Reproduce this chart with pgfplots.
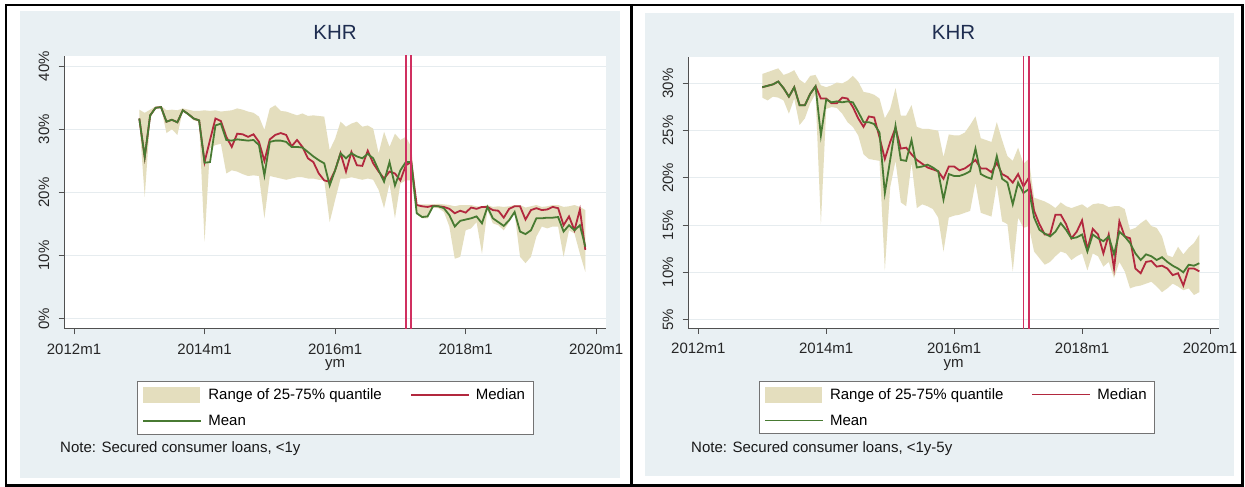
\documentclass[border=0pt]{standalone}
\usepackage{fontspec}
\setmainfont{Liberation Sans}
\usepackage{pgfplots}
\pgfplotsset{compat=1.18}
\usepackage{pgfplotstable}

\definecolor{bgc}{RGB}{233,240,243}
\definecolor{bandc}{RGB}{228,222,190}
\definecolor{medc}{RGB}{178,40,62}
\definecolor{meanc}{RGB}{72,122,50}
\definecolor{vlc}{RGB}{208,48,96}
\definecolor{gridc}{RGB}{230,236,239}
\definecolor{titc}{RGB}{30,45,80}
\definecolor{axc}{RGB}{80,80,80}

\pgfplotstableread{
m lo hi med mean
12 31.4 33.1 31.7 31.7
13 19.3 32.6 25.6 25.6
14 31.7 33.1 32.2 32.2
15 33.3 33.6 33.4 33.4
16 33.4 33.7 33.5 33.5
17 29.4 33.0 31.2 31.2
18 30.0 33.1 31.5 31.5
19 29.1 33.0 31.1 31.1
20 32.9 33.3 33.0 33.0
21 32.2 33.1 32.4 32.4
22 31.4 32.9 31.7 31.7
23 31.2 32.9 31.4 31.4
24 12.2 33.0 24.8 24.7
25 27.0 32.9 28.3 24.8
26 27.5 33.0 31.7 30.6
27 27.7 32.8 31.3 30.9
28 23.0 32.9 28.8 28.3
29 23.5 33.0 27.2 28.2
30 23.3 33.3 29.3 28.4
31 22.9 33.1 29.2 28.3
32 22.6 32.8 28.8 28.2
33 22.7 32.6 29.2 28.3
34 22.6 32.0 28.0 27.5
35 15.9 29.9 25.0 22.7
36 22.6 33.3 28.4 28.0
37 22.4 33.8 29.1 28.2
38 22.2 32.9 29.4 28.2
39 22.0 32.8 29.1 28.0
40 22.2 32.5 27.3 27.2
41 22.4 32.2 28.3 27.2
42 22.4 32.5 27.2 27.1
43 22.2 32.1 25.4 26.4
44 22.2 32.2 24.8 25.7
45 22.0 32.1 23.0 25.1
46 21.9 32.0 21.9 24.6
47 15.3 26.7 21.7 21.1
48 18.8 28.5 23.5 23.5
49 22.2 31.2 26.2 26.2
50 22.2 30.4 23.3 25.4
51 22.4 30.9 26.4 26.2
52 22.2 31.2 24.3 25.7
53 22.0 30.4 24.2 25.4
54 22.2 30.6 26.6 26.1
55 22.0 30.1 24.6 25.4
56 20.4 26.2 23.3 23.5
57 17.5 29.6 22.2 21.7
58 21.4 27.2 23.3 24.8
59 15.9 29.3 23.0 21.1
60 21.4 28.3 21.9 23.5
61 21.9 28.8 24.3 24.8
62 21.9 27.2 24.8 24.8
63 16.6 18.1 18.0 16.7
64 15.9 18.1 17.8 16.1
65 15.9 18.1 17.7 16.2
66 17.6 18.1 17.9 17.8
67 17.5 18.2 17.8 17.8
68 16.9 18.1 17.7 17.5
69 14.6 18.0 17.4 16.4
70 9.5 17.8 16.7 14.6
71 9.8 18.0 17.1 15.5
72 14.0 18.0 16.8 15.7
73 14.3 18.0 17.6 15.9
74 15.3 17.8 17.4 16.2
75 10.3 17.8 17.7 15.1
76 17.2 18.0 17.7 17.7
77 15.1 17.7 17.2 15.9
78 14.8 17.8 17.1 15.3
79 14.0 17.7 16.0 14.7
80 15.3 17.8 17.4 15.6
81 16.7 18.0 17.8 16.9
82 9.8 18.0 17.8 13.8
83 8.8 17.6 15.7 13.4
84 9.8 17.8 17.2 14.0
85 13.0 18.0 17.5 15.9
86 14.6 17.7 17.2 15.9
87 14.3 17.8 17.3 16.0
88 14.6 18.0 17.7 16.0
89 14.6 18.0 17.5 16.1
90 9.8 17.7 14.8 13.8
91 14.0 17.8 16.2 14.8
92 13.5 18.0 14.0 14.0
93 10.3 17.7 17.3 14.8
94 7.4 17.2 10.9 11.4
}\tabA

\pgfplotstableread{
m lo hi med mean
12 28.5 31.0 29.6 29.6
13 28.2 31.2 29.75 29.75
14 28.6 31.4 29.9 29.9
15 28.5 31.6 30.2 30.2
16 28.2 30.9 29.5 29.5
17 26.8 31.1 28.6 28.6
18 28.4 31.4 29.6 29.6
19 25.6 30.4 27.7 27.7
20 26.3 30.0 27.7 27.7
21 27.9 30.8 28.9 28.9
22 28.9 30.9 29.7 29.7
23 15.1 29.8 28.4 24.5
24 27.3 29.6 28.4 28.3
25 27.5 29.8 27.9 28.0
26 27.4 30.1 27.9 28.1
27 26.8 30.0 28.5 28.0
28 25.9 30.3 28.4 28.1
29 25.4 30.8 27.5 28.0
30 24.5 30.2 26.3 27.0
31 22.5 29.1 25.4 25.9
32 22.0 29.0 26.5 25.9
33 21.9 28.8 26.4 25.7
34 21.8 28.4 24.3 24.8
35 10.2 26.3 22.0 18.4
36 19.0 27.3 23.8 21.9
37 21.8 29.5 25.3 25.5
38 17.4 26.6 23.1 21.9
39 17.0 26.6 23.2 21.8
40 21.6 27.7 22.5 24.0
41 16.8 25.4 21.9 21.1
42 17.2 25.2 21.5 21.2
43 17.0 25.2 21.1 21.4
44 16.7 25.1 20.9 21.1
45 15.8 25.0 20.7 20.7
46 12.2 22.2 19.9 17.7
47 15.8 24.6 21.2 20.4
48 16.0 24.5 21.2 20.2
49 16.1 24.5 20.8 20.2
50 16.3 24.8 21.0 20.4
51 16.5 25.6 21.4 20.7
52 19.5 26.5 21.9 23.1
53 16.3 24.2 21.0 20.4
54 16.1 24.0 21.0 20.1
55 15.9 23.8 20.6 19.9
56 19.3 25.9 21.6 22.3
57 15.4 24.0 20.4 19.9
58 15.1 22.3 20.1 19.5
59 10.1 21.8 19.5 17.2
60 15.8 23.2 20.4 19.5
61 14.7 21.5 19.1 18.4
62 14.9 22.0 20.0 18.8
63 12.2 17.9 16.5 15.8
64 11.5 17.7 15.1 14.5
65 10.8 17.5 14.0 14.1
66 11.1 17.2 14.0 13.8
67 11.7 16.8 16.1 14.3
68 12.2 17.4 16.1 15.2
69 12.0 17.0 15.1 14.5
70 11.3 16.8 13.6 13.6
71 11.7 17.0 14.3 13.7
72 12.0 17.2 15.5 14.0
73 10.2 16.8 12.4 12.2
74 12.0 17.2 14.6 14.0
75 11.7 17.3 14.0 13.6
76 10.6 17.2 12.0 13.3
77 11.1 16.9 14.0 13.8
78 9.4 17.0 10.4 11.9
79 11.1 17.0 15.4 14.3
80 10.1 16.7 13.8 13.8
81 8.3 14.5 13.6 13.1
82 8.5 14.7 10.4 12.0
83 8.6 15.2 9.9 11.3
84 8.8 15.6 11.1 11.9
85 9.0 14.9 11.2 11.7
86 8.5 14.7 10.6 11.3
87 7.9 13.8 10.7 11.6
88 8.3 11.8 10.4 11.1
89 8.8 11.6 9.7 10.7
90 8.5 12.7 9.9 10.4
91 8.1 11.9 8.6 10.0
92 8.3 12.6 10.4 10.8
93 7.6 13.1 10.4 10.7
94 7.9 14.0 10.1 10.96
}\tabB

\newcommand{\fs}{\fontsize{15}{18}\selectfont}

\pgfplotsset{
  khr/.style={
    scale only axis,
    axis background/.style={fill=white},
    axis lines*=left,
    axis line style={axc, line width=1pt},
    tick align=outside,
    major tick length=5.5pt,
    tick style={axc, line width=1pt},
    xtick={0,24,48,72,96},
    xticklabels={2012m1,2014m1,2016m1,2018m1,2020m1},
    ymajorgrids,
    grid style={gridc, line width=1pt},
    tick label style={font=\fs, text=black!85},
    xticklabel style={anchor=base, yshift=-20pt},
    yticklabel style={xshift=-9pt, rotate=90, anchor=south, inner sep=0pt},
    xlabel={ym},
    xlabel style={font=\fs, text=black!85, at={(axis description cs:0.5,0)}, anchor=base, yshift=-39pt},
    title={KHR},
    title style={font=\fontsize{20.5}{24}\selectfont, text=titc, at={(axis description cs:0.5,1)}, anchor=base},
    legend columns=2,
    legend cell align=left,
    legend style={anchor=north west, draw=black!55, line width=0.8pt, fill=white,
      font=\fs, inner xsep=6pt, inner ysep=5pt, row sep=10pt,
      /tikz/every even column/.append style={column sep=27pt},
      /tikz/every odd column/.append style={column sep=5pt}},
  },
  bandleg/.style={legend image code/.code={\fill[fill=bandc, draw=none] (0pt,-8pt) rectangle (57pt,8pt);}},
  medleg/.style={legend image code/.code={\fill[fill=medc, draw=none] (0pt,-0.8pt) rectangle (58pt,0.8pt);}},
  meanleg/.style={legend image code/.code={\fill[fill=meanc, draw=none] (0pt,-0.8pt) rectangle (58pt,0.8pt);}},
}

\begin{document}
\begin{tikzpicture}
\fill[white] (0pt,0pt) rectangle (1245pt,487pt);
\fill[bgc] (20pt,9pt) rectangle (620pt,476pt);
\fill[bgc] (645pt,11pt) rectangle (1234pt,474pt);

% ---------- left panel ----------
\begin{axis}[khr,
  at={(64pt,158pt)}, anchor=south west,
  width=542pt, height=273pt,
  xmin=-1.84, xmax=97.8, ymin=-1.63, ymax=41.6,
  ytick={0,10,20,30,40},
  yticklabels={0\%,10\%,20\%,30\%,40\%},
  title style={yshift=10pt},
  legend style={at={(axis description cs:0.1347,-0.192)}},
]
\addplot[draw=none, stack plots=y, forget plot] table[x=m,y=lo]{\tabA};
\addplot[fill=bandc, draw=none, stack plots=y, bandleg] table[x=m,y expr=\thisrow{hi}-\thisrow{lo}]{\tabA} \closedcycle;
\addlegendentry{Range of 25-75\% quantile}
\addplot[medc, line width=1.8pt, stack plots=false, medleg] table[x=m,y=med]{\tabA};
\addlegendentry{Median}
\addplot[meanc, line width=1.8pt, stack plots=false, meanleg] table[x=m,y=mean]{\tabA};
\addlegendentry{Mean}
\addplot[vlc, line width=1.6pt, stack plots=false, forget plot] coordinates {(61,-5) (61,50)};
\addplot[vlc, line width=1.6pt, stack plots=false, forget plot] coordinates {(62,-5) (62,50)};
\end{axis}

% ---------- right panel ----------
\begin{axis}[khr,
  at={(688pt,158.7pt)}, anchor=south west,
  width=531pt, height=271.3pt,
  xmin=-1.93, xmax=97.69, ymin=4.07, ymax=32.8,
  ytick={5,10,15,20,25,30},
  yticklabels={5\%,10\%,15\%,20\%,25\%,30\%},
  title style={yshift=11pt},
  legend style={at={(axis description cs:0.133,-0.194)}},
]
\addplot[draw=none, stack plots=y, forget plot] table[x=m,y=lo]{\tabB};
\addplot[fill=bandc, draw=none, stack plots=y, bandleg] table[x=m,y expr=\thisrow{hi}-\thisrow{lo}]{\tabB} \closedcycle;
\addlegendentry{Range of 25-75\% quantile}
\addplot[medc, line width=1.8pt, stack plots=false, medleg] table[x=m,y=med]{\tabB};
\addlegendentry{Median}
\addplot[meanc, line width=1.8pt, stack plots=false, meanleg] table[x=m,y=mean]{\tabB};
\addlegendentry{Mean}
\addplot[vlc, line width=1.6pt, stack plots=false, forget plot] coordinates {(61,0) (61,40)};
\addplot[vlc, line width=1.6pt, stack plots=false, forget plot] coordinates {(62,0) (62,40)};
\end{axis}

\node[anchor=base west, font=\fs, text=black!90, inner sep=0pt] at (60pt,34pt) {Note: Secured consumer loans, <1y};
\node[anchor=base west, font=\fs, text=black!90, inner sep=0pt] at (691pt,34pt) {Note: Secured consumer loans, <1y-5y};

\draw[line width=2.5pt] (6pt,1.5pt) rectangle (1242.5pt,482pt);
\draw[line width=2.5pt] (631.5pt,1.5pt) -- (631.5pt,482pt);
\pgfresetboundingbox
\path[use as bounding box] (0pt,0pt) rectangle (1245pt,487pt);
\end{tikzpicture}
\end{document}
